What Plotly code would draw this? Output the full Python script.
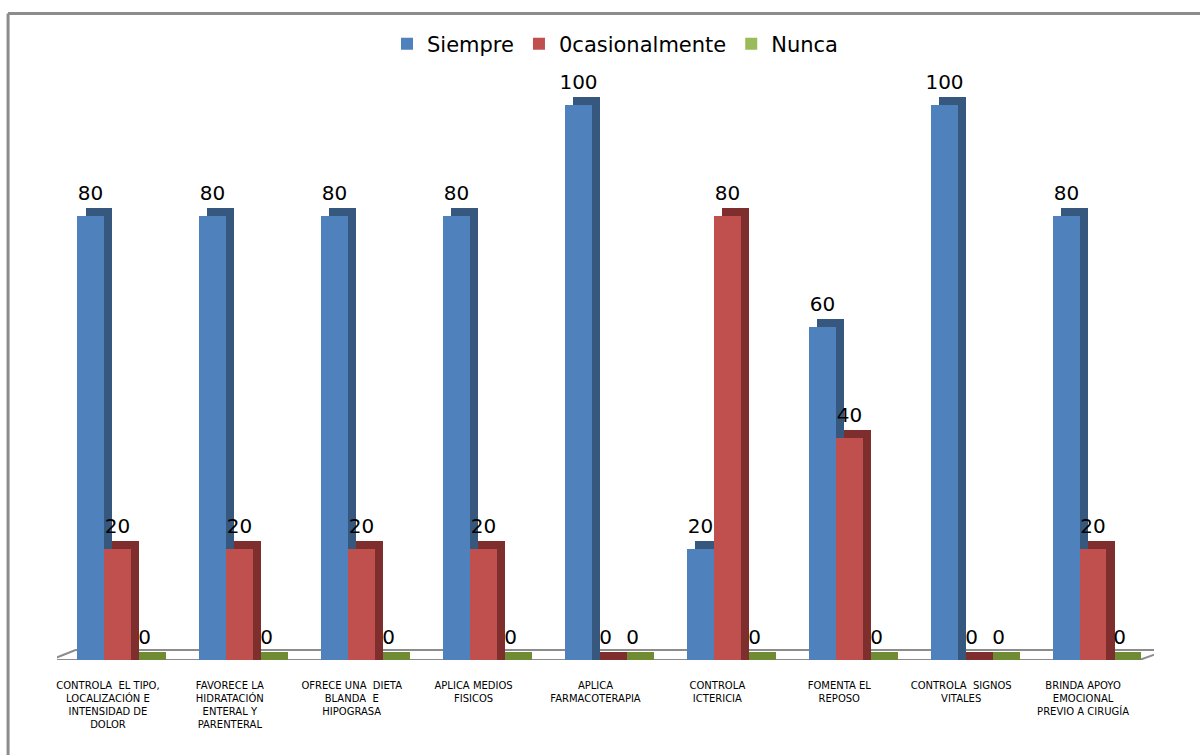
import numpy as np
import plotly.graph_objects as go

categories = [
    "CONTROLA  EL TIPO,<br>LOCALIZACIÓN E<br>INTENSIDAD DE<br>DOLOR",
    "FAVORECE LA<br>HIDRATACIÓN<br>ENTERAL Y<br>PARENTERAL",
    "OFRECE UNA  DIETA<br>BLANDA  E<br>HIPOGRASA",
    "APLICA MEDIOS<br>FISICOS",
    "APLICA<br>FARMACOTERAPIA",
    "CONTROLA<br>ICTERICIA",
    "FOMENTA EL<br>REPOSO",
    "CONTROLA  SIGNOS<br>VITALES",
    "BRINDA APOYO<br>EMOCIONAL<br>PREVIO A CIRUGÍA",
]
siempre = [80, 80, 80, 80, 100, 20, 60, 100, 80]
ocasionalmente = [20, 20, 20, 20, 0, 80, 40, 0, 20]
nunca = [0, 0, 0, 0, 0, 0, 0, 0, 0]
series_names = ["Siempre", "0casionalmente", "Nunca"]

front_colors = ["#4F81BD", "#C0504D", "#9BBB59"]
side_colors = ["#36587F", "#7E2F2D", "#6F8C35"]

x = np.arange(len(categories))
W = 0.221          # bar width (category units)
DX = 0.066         # depth offset x (category units)
DY = 1.45          # depth offset y (value units)
offsets = [-0.332, -0.111, 0.110]

fig = go.Figure()
for name, vals, off, fc, sc in zip(series_names, [siempre, ocasionalmente, nunca],
                                   offsets, front_colors, side_colors):
    v = np.array(vals, dtype=float)
    # depth (side + top face)
    fig.add_trace(go.Bar(
        x=x, y=v + DY, base=0, offset=off + DX, width=W,
        marker=dict(color=sc, line=dict(width=0)),
        showlegend=False, hoverinfo="skip",
    ))
    # front face
    fig.add_trace(go.Bar(
        x=x, y=v, offset=off, width=W, name=name,
        marker=dict(color=fc, line=dict(width=0)),
    ))
    # value labels (transparent carrier above the top face)
    fig.add_trace(go.Bar(
        x=x, y=v + DY, base=0, offset=off, width=W,
        marker=dict(color="rgba(0,0,0,0)", line=dict(width=0)),
        text=[str(int(t)) for t in vals], textposition="outside",
        constraintext="none", cliponaxis=False,
        textfont=dict(family="DejaVu Sans", size=20, color="#000000"),
        showlegend=False, hoverinfo="skip",
    ))

# floor of the 3D plot area
fig.add_shape(type="path",
              path="M -0.553,0 L 8.38,0 L 8.61,1.8 L -0.348,1.8 Z",
              xref="x", yref="y", line=dict(color="#8C8C8C", width=2),
              fillcolor="rgba(0,0,0,0)", layer="below")
# chart border (left and top)
fig.add_shape(type="line", xref="paper", yref="paper",
              x0=-0.0446, x1=-0.0446, y0=-0.2, y1=0.9946,
              line=dict(color="#8C8C8C", width=3))
fig.add_shape(type="line", xref="paper", yref="paper",
              x0=-0.0446, x1=1.06, y0=0.9946, y1=0.9946,
              line=dict(color="#8C8C8C", width=3))

fig.update_layout(
    width=1200, height=755,
    barmode="overlay",
    margin=dict(l=57, r=46, t=10, b=95, autoexpand=False),
    plot_bgcolor="white", paper_bgcolor="white",
    font=dict(family="DejaVu Sans", color="#000000"),
    showlegend=True,
    legend=dict(orientation="h", xref="container", yref="paper",
                x=0.5125, y=0.9477, xanchor="center", yanchor="middle",
                bgcolor="rgba(0,0,0,0)",
                font=dict(size=21, family="DejaVu Sans"), traceorder="normal"),
    bargap=0,
)
fig.update_xaxes(range=[-0.5, 8.5], tickvals=list(x), ticktext=categories,
                 showgrid=False, zeroline=False, showline=False, ticks="",
                 tickfont=dict(size=10, family="DejaVu Sans"),
                 ticklabelstandoff=18, ticklabelshift=-10)
fig.update_yaxes(range=[0, 117.1], showgrid=False, zeroline=False,
                 showline=False, showticklabels=False, ticks="")

fig.write_html("out.html")
